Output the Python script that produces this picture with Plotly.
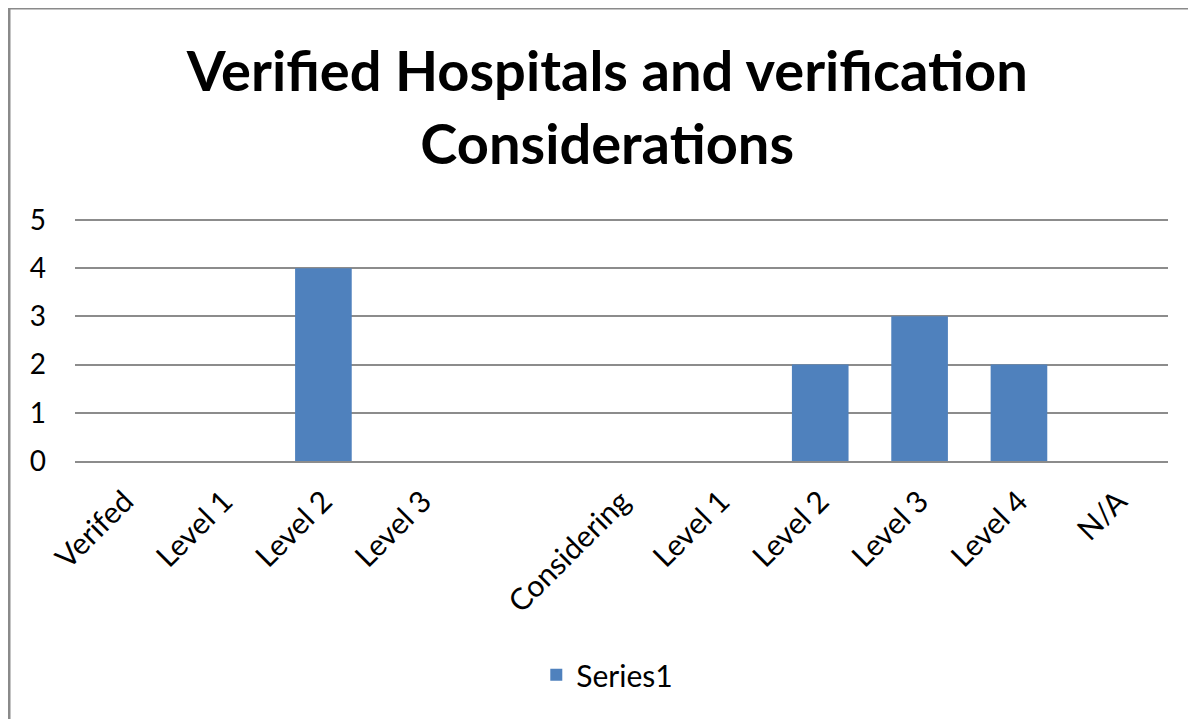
import plotly.graph_objects as go

categories = ["Verifed", "Level 1", "Level 2", "Level 3", "", "Considering",
              "Level 1", "Level 2", "Level 3", "Level 4", "N/A"]
values = [None, None, 4, None, None, None, None, 2, 3, 2, None]
positions = list(range(len(categories)))

FONT = "Lato, Carlito, Calibri, sans-serif"

L, T, R, B = 67, 210, 36, 266
W, H = 1196, 719
PW, PH = W - L - R, H - T - B

fig = go.Figure()
fig.add_trace(go.Bar(
    x=positions, y=values, name="Series1",
    marker=dict(color="#4F81BD", line=dict(width=0)),
    width=0.57,
))

fig.update_layout(
    width=W, height=H,
    paper_bgcolor="white", plot_bgcolor="white",
    margin=dict(l=L, r=R, t=T, b=B),
    font=dict(family=FONT, color="#000000", size=28),
    title=dict(
        text="<b>Verified Hospitals and verification<br>Considerations</b>",
        x=0.501, xanchor="center", y=0.884, yanchor="middle",
        yref="container",
        font=dict(family=FONT, size=56, color="#000000"),
    ),
    showlegend=True,
    legend=dict(orientation="h", x=0.487, xanchor="center", y=-0.88, yanchor="middle",
                font=dict(family=FONT, size=30), itemwidth=30),
)

# outer frame (top and left edges)
fig.add_shape(type="line", xref="paper", yref="paper",
              x0=(0 - L) / PW, x1=(W + 20 - L) / PW,
              y0=(H - B + 0) / PH, y1=(H - B + 0) / PH,
              line=dict(color="#8a8a8a", width=3))
fig.add_shape(type="line", xref="paper", yref="paper",
              x0=(1 - L) / PW, x1=(1 - L) / PW,
              y0=(H - B) / PH, y1=-(B + 20) / PH,
              line=dict(color="#8a8a8a", width=3))

fig.update_xaxes(
    range=[-0.5, len(categories) - 0.5],
    tickmode="array", tickvals=positions, ticktext=categories,
    tickangle=-45, showgrid=False, zeroline=False,
    showline=True, linecolor="#8c8c8c", linewidth=1.5,
    ticks="", tickfont=dict(family=FONT, size=30),
    ticklabelstandoff=9,
)
fig.update_yaxes(
    range=[0, 5.04], tickmode="array", tickvals=[0, 1, 2, 3, 4, 5],
    showgrid=True, gridcolor="#8c8c8c", gridwidth=1.5,
    zeroline=False, showline=False, ticks="",
    tickfont=dict(family=FONT, size=28),
    ticklabelstandoff=28,
)

fig.write_html("out.html")
